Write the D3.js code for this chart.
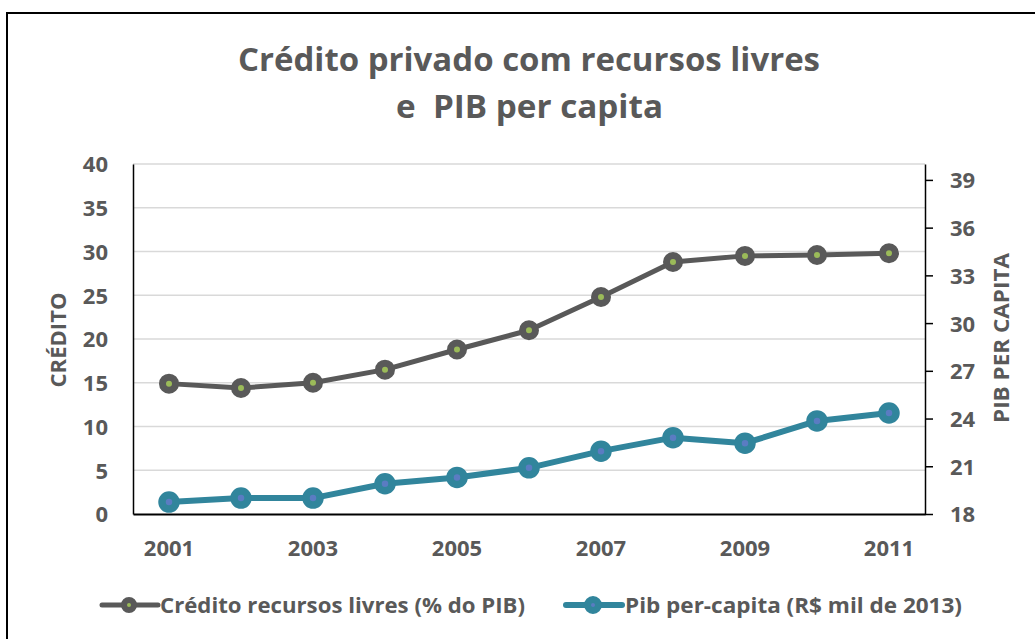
<!DOCTYPE html>
<html>
<head>
<meta charset="utf-8">
<script src="https://cdn.jsdelivr.net/npm/d3@7"></script>
<style>
  html, body { margin: 0; padding: 0; background: #fff; }
  svg { display: block; }
  text { font-family: "Open Sans", "Noto Sans", sans-serif; font-weight: 700; fill: #595959; }
</style>
</head>
<body>
<svg id="chart" width="1035" height="639"></svg>
<script>
const years = [2001, 2002, 2003, 2004, 2005, 2006, 2007, 2008, 2009, 2010, 2011];
const credito = [14.9, 14.4, 15.0, 16.5, 18.8, 21.0, 24.8, 28.8, 29.5, 29.6, 29.8];
const pibPerCapita = [18.75, 19.0, 19.0, 19.9, 20.3, 20.9, 21.95, 22.8, 22.45, 23.85, 24.35];
const leftTicks = [0, 5, 10, 15, 20, 25, 30, 35, 40];
const rightTicks = [18, 21, 24, 27, 30, 33, 36, 39];
const xTickYears = [2001, 2003, 2005, 2007, 2009, 2011];
const titleLines = ["Crédito privado com recursos livres", "e  PIB per capita"];
const seriesNames = ["Crédito recursos livres (% do PIB)", "Pib per-capita (R$ mil de 2013)"];
const axisTitles = ["CRÉDITO", "PIB PER CAPITA"];

const svg = d3.select("#chart");
const plot = { left: 133, right: 925, top: 164, bottom: 514 };

// outer frame
svg.append("path")
  .attr("d", "M7,660 V13 H1060")
  .attr("fill", "none").attr("stroke", "#000").attr("stroke-width", 2);

const x = d3.scaleBand().domain(years).range([plot.left, plot.right]).padding(0);
const xc = d => x(d) + x.bandwidth() / 2;
const yL = d3.scaleLinear().domain([0, 40]).range([plot.bottom, plot.top]);
const yR = d3.scaleLinear().domain([18, 40]).range([plot.bottom, plot.top]);

// gridlines
svg.append("g").selectAll("line").data(leftTicks.filter(t => t > 0)).join("line")
  .attr("x1", plot.left).attr("x2", plot.right)
  .attr("y1", d => yL(d)).attr("y2", d => yL(d))
  .attr("stroke", "#d9d9d9").attr("stroke-width", 1.3);

// left axis
const gL = svg.append("g").attr("transform", `translate(${plot.left},0)`)
  .call(d3.axisLeft(yL).tickValues(leftTicks).tickSize(0).tickPadding(25));
gL.select(".domain").attr("stroke", "#000").attr("stroke-width", 1.5);
gL.selectAll("text").attr("font-size", 22).attr("font-family", null).attr("fill", "#595959").attr("dy", "0.36em");

// right axis
const gR = svg.append("g").attr("transform", `translate(${plot.right},0)`)
  .call(d3.axisRight(yR).tickValues(rightTicks).tickSize(8).tickSizeOuter(0).tickPadding(17));
gR.select(".domain").attr("stroke", "#000").attr("stroke-width", 1.5);
gR.selectAll(".tick line").attr("stroke", "#000").attr("stroke-width", 1.5);
gR.selectAll("text").attr("font-size", 22).attr("font-family", null).attr("fill", "#595959").attr("dy", "0.36em");

// bottom axis
const gB = svg.append("g").attr("transform", `translate(0,${plot.bottom})`)
  .call(d3.axisBottom(x).tickValues(xTickYears).tickSize(0).tickSizeOuter(0).tickPadding(26));
gB.select(".domain").attr("stroke", "#000").attr("stroke-width", 2);
gB.selectAll("text").attr("font-size", 22).attr("font-family", null).attr("fill", "#595959");

// lines
const lineL = d3.line().x((d, i) => xc(years[i])).y(d => yL(d));
const lineR = d3.line().x((d, i) => xc(years[i])).y(d => yR(d));

svg.append("path").datum(credito).attr("d", lineL)
  .attr("fill", "none").attr("stroke", "#595959").attr("stroke-width", 5).attr("stroke-linejoin", "round");
svg.append("g").selectAll("circle").data(credito).join("circle")
  .attr("cx", (d, i) => xc(years[i])).attr("cy", d => yL(d)).attr("r", 6.5)
  .attr("fill", "#9BBB59").attr("stroke", "#595959").attr("stroke-width", 7);

svg.append("path").datum(pibPerCapita).attr("d", lineR)
  .attr("fill", "none").attr("stroke", "#31859C").attr("stroke-width", 6).attr("stroke-linejoin", "round");
svg.append("g").selectAll("circle").data(pibPerCapita).join("circle")
  .attr("cx", (d, i) => xc(years[i])).attr("cy", d => yR(d)).attr("r", 7)
  .attr("fill", "#5A7CC2").attr("stroke", "#31859C").attr("stroke-width", 7.5);

// title
svg.append("text").text(titleLines[0])
  .attr("x", 238).attr("y", 71).attr("font-size", 32)
  .attr("textLength", 582).attr("lengthAdjust", "spacingAndGlyphs");
svg.append("text").text(titleLines[1]).style("white-space", "pre")
  .attr("x", 396).attr("y", 118).attr("font-size", 32)
  .attr("textLength", 267).attr("lengthAdjust", "spacingAndGlyphs");

// axis titles
svg.append("text").text(axisTitles[0])
  .attr("transform", "translate(66,340) rotate(-90)").attr("text-anchor", "middle")
  .attr("font-size", 21).attr("textLength", 95).attr("lengthAdjust", "spacingAndGlyphs");
svg.append("text").text(axisTitles[1])
  .attr("transform", "translate(1009,338) rotate(-90)").attr("text-anchor", "middle")
  .attr("font-size", 21).attr("textLength", 170).attr("lengthAdjust", "spacingAndGlyphs");

// legend
const legend = [
  { name: seriesNames[0], stroke: "#595959", fill: "#9BBB59", x0: 102, x1: 158, cx: 129, tx: 160, tl: 365, lw: 5, r: 5, sw: 6 },
  { name: seriesNames[1], stroke: "#31859C", fill: "#5A7CC2", x0: 566, x1: 622, cx: 593, tx: 625, tl: 337, lw: 6, r: 5.5, sw: 7 }
];
const ly = 605;
const lg = svg.append("g").selectAll("g").data(legend).join("g");
lg.append("line").attr("x1", d => d.x0).attr("x2", d => d.x1).attr("y1", ly).attr("y2", ly)
  .attr("stroke", d => d.stroke).attr("stroke-width", d => d.lw).attr("stroke-linecap", "round");
lg.append("circle").attr("cx", d => d.cx).attr("cy", ly).attr("r", d => d.r)
  .attr("fill", d => d.fill).attr("stroke", d => d.stroke).attr("stroke-width", d => d.sw);
lg.append("text").text(d => d.name).attr("x", d => d.tx).attr("y", ly + 8)
  .attr("font-size", 22).attr("textLength", d => d.tl).attr("lengthAdjust", "spacingAndGlyphs");
</script>
</body>
</html>
